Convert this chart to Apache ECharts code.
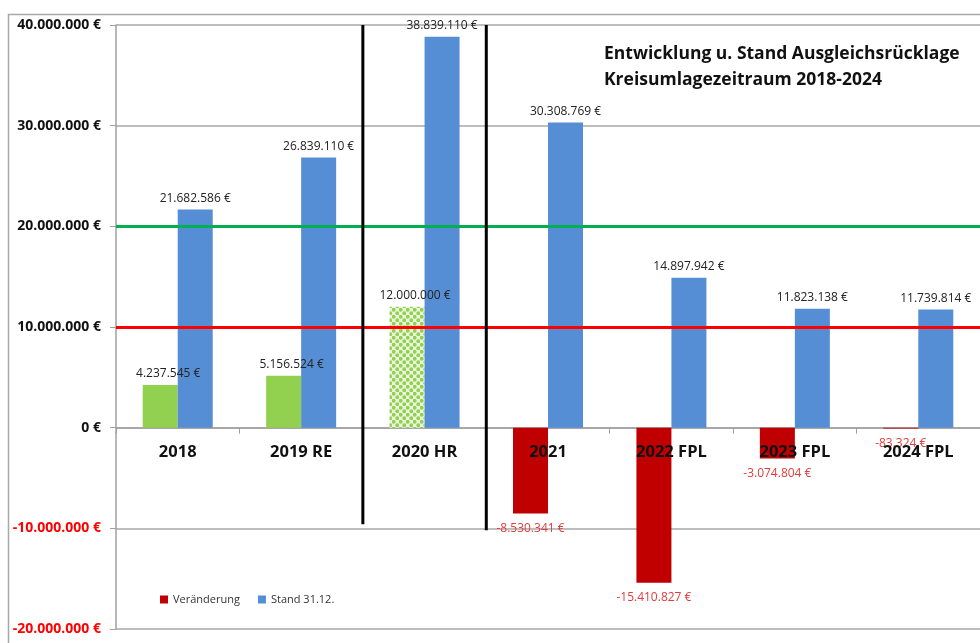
<!DOCTYPE html>
<html><head><meta charset="utf-8">
<script src="https://cdn.jsdelivr.net/npm/echarts@6/dist/echarts.min.js"></script>
<style>html,body{margin:0;padding:0;background:#fff}#c{width:980px;height:643px}</style>
</head><body><div id="c"></div>
<script>
const categories = ['2018','2019 RE','2020 HR','2021','2022 FPL','2023 FPL','2024 FPL'];
const veraenderung = [4237545, 5156524, 12000000, -8530341, -15410827, -3074804, -83324];
const stand = [21682586, 26839110, 38839110, 30308769, 14897942, 11823138, 11739814];
const yTicks = {min: -20000000, max: 40000000, interval: 10000000};
const referenceLines = [{value: 10000000, color: '#FF0000'}, {value: 20000000, color: '#00B050'}];
const separatorLines = [{after: 1, bottom: -9600000}, {after: 2, bottom: -10200000}];

function fmt(v){
  const neg = v < 0; let s = Math.abs(Math.round(v)).toString();
  s = s.replace(/\B(?=(\d{3})+(?!\d))/g, '.');
  return (neg ? '-' : '') + s + ' €';
}

// dotted pattern for 2020 HR
const pc = document.createElement('canvas'); pc.width = 7; pc.height = 7;
const px = pc.getContext('2d');
px.fillStyle = '#eaf6dc'; px.fillRect(0,0,7,7);
px.fillStyle = '#92D050';
px.beginPath(); px.arc(1.75,1.75,1.9,0,Math.PI*2); px.fill();
px.beginPath(); px.arc(5.25,5.25,1.9,0,Math.PI*2); px.fill();

const FONT = 'Open Sans';
const vData = veraenderung.map((v,i) => {
  let color = v < 0 ? '#C00000' : '#92D050';
  if (categories[i] === '2020 HR') color = {image: pc, repeat: 'repeat'};
  return {
    value: v,
    itemStyle: {color},
    label: v < 0 ? {position: 'bottom', color: '#E03C3C', distance: 9} : {position: 'top', color: '#222', offset: [8, 0]}
  };
});

const GRID = {left: 116, right: 0, top: 25, bottom: 14};
const plotH = 643 - GRID.top - GRID.bottom;
const zeroFromBottom = plotH * (0 - yTicks.min) / (yTicks.max - yTicks.min);

const chart = echarts.init(document.getElementById('c'), null, {renderer: 'canvas'});
chart.setOption({
  animation: false,
  backgroundColor: '#fff',
  title: {
    text: 'Entwicklung u. Stand Ausgleichsrücklage\nKreisumlagezeitraum 2018-2024',
    left: 599, top: 36,
    textStyle: {fontFamily: FONT, fontWeight: 'bold', fontSize: 17.5, color: '#111', lineHeight: 26}
  },
  legend: {
    left: 155, top: 589,
    itemWidth: 8, itemHeight: 8, itemGap: 18, icon: 'rect',
    textStyle: {fontFamily: FONT, fontSize: 11, color: '#333'},
    data: [{name: 'Veränderung', itemStyle: {color: '#C00000'}}, {name: 'Stand 31.12.', itemStyle: {color: '#558ED5'}}]
  },
  grid: Object.assign({containLabel: false, outerBoundsMode: 'none'}, GRID),
  xAxis: [{
    type: 'category', data: categories,
    axisLine: {onZero: true, lineStyle: {color: '#A0A0A0', width: 1.5}},
    axisTick: {show: true, length: 6, lineStyle: {color: '#A0A0A0'}},
    axisLabel: {show: false},
    z: 1
  }, {
    type: 'category', data: categories, position: 'bottom', offset: -zeroFromBottom,
    axisLine: {show: false}, axisTick: {show: false}, splitLine: {show: false},
    axisLabel: {fontFamily: FONT, fontWeight: 'bold', fontSize: 16.5, color: '#111', margin: 16},
    z: 20
  }],
  yAxis: {
    type: 'value', min: yTicks.min, max: yTicks.max, interval: yTicks.interval,
    axisLine: {show: true, lineStyle: {color: '#A0A0A0', width: 1.5}},
    axisTick: {show: true, length: 6, lineStyle: {color: '#A0A0A0'}},
    splitLine: {show: true, lineStyle: {color: '#A8A8A8', width: 1.5}},
    axisLabel: {
      fontFamily: FONT, fontWeight: 'bold', fontSize: 14, margin: 15,
      formatter: v => fmt(v),
      color: v => (v < 0 ? '#FF0000' : '#111')
    }
  },
  series: [
    {
      name: 'Veränderung', type: 'bar', data: vData, barWidth: 35, barGap: '0%',
      label: {show: true, fontFamily: FONT, fontSize: 12, formatter: p => fmt(p.value)},
      markLine: {
        silent: true, symbol: 'none', label: {show: false},
        data: referenceLines.map(r => ({yAxis: r.value, lineStyle: {color: r.color, width: 3, type: 'solid'}}))
      }
    },
    {
      name: 'Stand 31.12.', type: 'bar', data: stand, barWidth: 35,
      itemStyle: {color: '#558ED5'},
      label: {show: true, position: 'top', fontFamily: FONT, fontSize: 12, color: '#222', formatter: p => fmt(p.value)}
    }
  ]
});

// outer frame + separator lines between categories
const graphics = [{
  type: 'rect', shape: {x: 8.5, y: 14.5, width: 1000, height: 700},
  style: {fill: null, stroke: '#A8A8A8', lineWidth: 1.5}, silent: true, z: 0
}];
separatorLines.forEach(s => {
  const x1 = chart.convertToPixel({xAxisIndex: 0}, s.after);
  const x2 = chart.convertToPixel({xAxisIndex: 0}, s.after + 1);
  const x = (x1 + x2) / 2;
  const yTop = chart.convertToPixel({yAxisIndex: 0}, yTicks.max);
  const yBot = chart.convertToPixel({yAxisIndex: 0}, s.bottom);
  graphics.push({type: 'line', shape: {x1: x, y1: yTop, x2: x, y2: yBot}, style: {stroke: '#000', lineWidth: 3}, z: 10, silent: true});
});
chart.setOption({graphic: graphics});
</script></body></html>
